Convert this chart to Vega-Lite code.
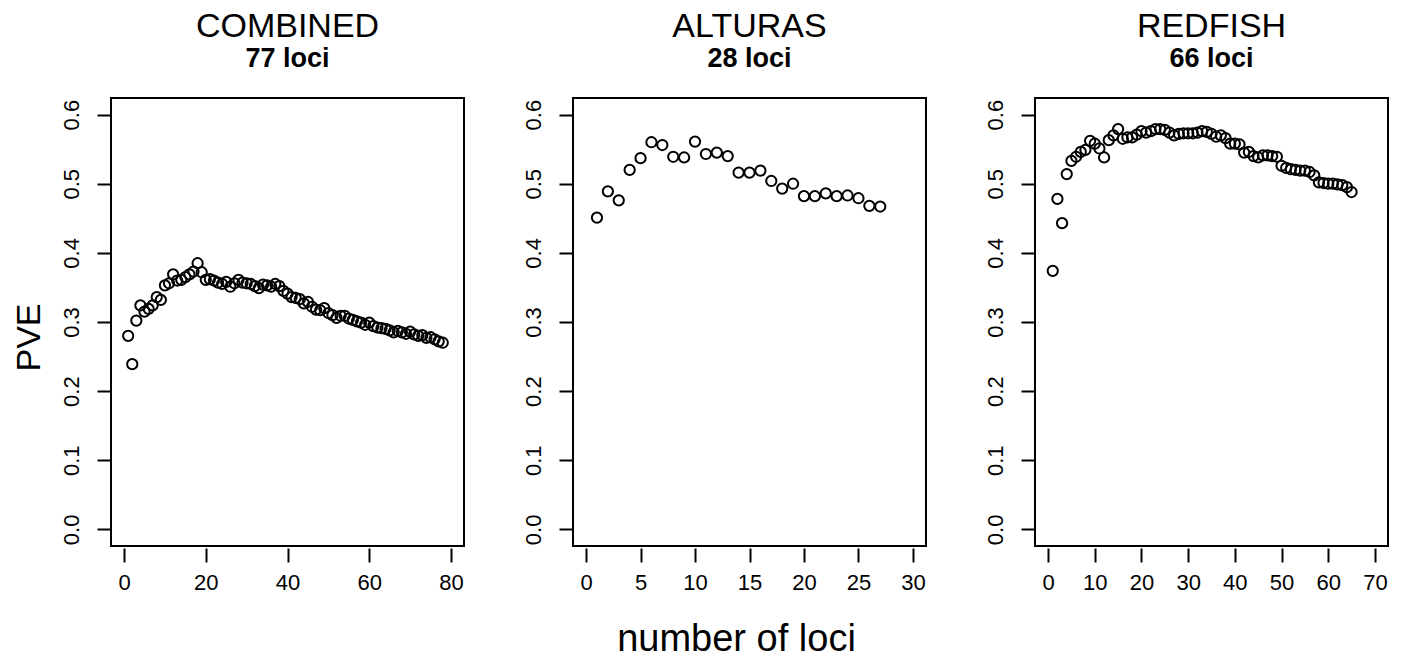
{
  "$schema": "https://vega.github.io/schema/vega-lite/v6.json",
  "autosize": {"type": "pad"},
  "padding": {"left": 11, "top": 9, "right": 0, "bottom": 0},
  "background": "white",
  "bounds": "flush",
  "spacing": 109,
  "datasets": {
    "combined": [
      {"loci":1,"pve":0.280},{"loci":2,"pve":0.239},{"loci":3,"pve":0.302},{"loci":4,"pve":0.324},{"loci":5,"pve":0.315},{"loci":6,"pve":0.319},{"loci":7,"pve":0.324},{"loci":8,"pve":0.336},{"loci":9,"pve":0.332},{"loci":10,"pve":0.353},
      {"loci":11,"pve":0.356},{"loci":12,"pve":0.369},{"loci":13,"pve":0.360},{"loci":14,"pve":0.361},{"loci":15,"pve":0.365},{"loci":16,"pve":0.369},{"loci":17,"pve":0.373},{"loci":18,"pve":0.385},{"loci":19,"pve":0.372},{"loci":20,"pve":0.361},
      {"loci":21,"pve":0.362},{"loci":22,"pve":0.360},{"loci":23,"pve":0.357},{"loci":24,"pve":0.355},{"loci":25,"pve":0.358},{"loci":26,"pve":0.351},{"loci":27,"pve":0.356},{"loci":28,"pve":0.361},{"loci":29,"pve":0.357},{"loci":30,"pve":0.356},
      {"loci":31,"pve":0.355},{"loci":32,"pve":0.352},{"loci":33,"pve":0.349},{"loci":34,"pve":0.354},{"loci":35,"pve":0.353},{"loci":36,"pve":0.351},{"loci":37,"pve":0.355},{"loci":38,"pve":0.352},{"loci":39,"pve":0.345},{"loci":40,"pve":0.341},
      {"loci":41,"pve":0.336},{"loci":42,"pve":0.335},{"loci":43,"pve":0.333},{"loci":44,"pve":0.327},{"loci":45,"pve":0.329},{"loci":46,"pve":0.322},{"loci":47,"pve":0.318},{"loci":48,"pve":0.317},{"loci":49,"pve":0.320},{"loci":50,"pve":0.313},
      {"loci":51,"pve":0.310},{"loci":52,"pve":0.306},{"loci":53,"pve":0.309},{"loci":54,"pve":0.309},{"loci":55,"pve":0.305},{"loci":56,"pve":0.303},{"loci":57,"pve":0.301},{"loci":58,"pve":0.299},{"loci":59,"pve":0.296},{"loci":60,"pve":0.299},
      {"loci":61,"pve":0.294},{"loci":62,"pve":0.292},{"loci":63,"pve":0.291},{"loci":64,"pve":0.290},{"loci":65,"pve":0.288},{"loci":66,"pve":0.285},{"loci":67,"pve":0.287},{"loci":68,"pve":0.285},{"loci":69,"pve":0.283},{"loci":70,"pve":0.286},
      {"loci":71,"pve":0.282},{"loci":72,"pve":0.280},{"loci":73,"pve":0.281},{"loci":74,"pve":0.277},{"loci":75,"pve":0.278},{"loci":76,"pve":0.275},{"loci":77,"pve":0.272},{"loci":78,"pve":0.270}
    ],
    "alturas": [
      {"loci":1,"pve":0.451},{"loci":2,"pve":0.489},{"loci":3,"pve":0.476},{"loci":4,"pve":0.520},{"loci":5,"pve":0.537},{"loci":6,"pve":0.560},{"loci":7,"pve":0.556},{"loci":8,"pve":0.539},{"loci":9,"pve":0.538},{"loci":10,"pve":0.561},
      {"loci":11,"pve":0.543},{"loci":12,"pve":0.545},{"loci":13,"pve":0.540},{"loci":14,"pve":0.516},{"loci":15,"pve":0.516},{"loci":16,"pve":0.519},{"loci":17,"pve":0.504},{"loci":18,"pve":0.493},{"loci":19,"pve":0.500},{"loci":20,"pve":0.482},
      {"loci":21,"pve":0.482},{"loci":22,"pve":0.486},{"loci":23,"pve":0.482},{"loci":24,"pve":0.483},{"loci":25,"pve":0.479},{"loci":26,"pve":0.468},{"loci":27,"pve":0.467}
    ],
    "redfish": [
      {"loci":1,"pve":0.374},{"loci":2,"pve":0.478},{"loci":3,"pve":0.443},{"loci":4,"pve":0.514},{"loci":5,"pve":0.533},{"loci":6,"pve":0.539},{"loci":7,"pve":0.546},{"loci":8,"pve":0.549},{"loci":9,"pve":0.562},{"loci":10,"pve":0.558},
      {"loci":11,"pve":0.551},{"loci":12,"pve":0.538},{"loci":13,"pve":0.563},{"loci":14,"pve":0.570},{"loci":15,"pve":0.579},{"loci":16,"pve":0.565},{"loci":17,"pve":0.567},{"loci":18,"pve":0.567},{"loci":19,"pve":0.571},{"loci":20,"pve":0.576},
      {"loci":21,"pve":0.574},{"loci":22,"pve":0.576},{"loci":23,"pve":0.579},{"loci":24,"pve":0.579},{"loci":25,"pve":0.578},{"loci":26,"pve":0.574},{"loci":27,"pve":0.570},{"loci":28,"pve":0.572},{"loci":29,"pve":0.573},{"loci":30,"pve":0.573},
      {"loci":31,"pve":0.573},{"loci":32,"pve":0.574},{"loci":33,"pve":0.576},{"loci":34,"pve":0.575},{"loci":35,"pve":0.572},{"loci":36,"pve":0.568},{"loci":37,"pve":0.570},{"loci":38,"pve":0.566},{"loci":39,"pve":0.558},{"loci":40,"pve":0.558},
      {"loci":41,"pve":0.557},{"loci":42,"pve":0.545},{"loci":43,"pve":0.546},{"loci":44,"pve":0.540},{"loci":45,"pve":0.538},{"loci":46,"pve":0.541},{"loci":47,"pve":0.541},{"loci":48,"pve":0.540},{"loci":49,"pve":0.539},{"loci":50,"pve":0.526},
      {"loci":51,"pve":0.523},{"loci":52,"pve":0.521},{"loci":53,"pve":0.520},{"loci":54,"pve":0.519},{"loci":55,"pve":0.519},{"loci":56,"pve":0.517},{"loci":57,"pve":0.512},{"loci":58,"pve":0.502},{"loci":59,"pve":0.501},{"loci":60,"pve":0.500},
      {"loci":61,"pve":0.500},{"loci":62,"pve":0.499},{"loci":63,"pve":0.498},{"loci":64,"pve":0.495},{"loci":65,"pve":0.488}
    ]
  },
  "config": {
    "view": {"stroke": "black", "strokeWidth": 2},
    "font": "Liberation Sans",
    "axis": {
      "labelFont": "Liberation Sans", "labelFontSize": 22, "labelColor": "black",
      "tickColor": "black", "tickWidth": 2, "tickSize": 14,
      "domain": false, "grid": false,
      "titleFont": "Liberation Sans", "titleFontWeight": "normal", "titleColor": "black", "titleFontSize": 38
    },
    "axisX": {"offset": 2, "labelPadding": 10},
    "axisY": {"labelAngle": -90, "labelAlign": "center", "labelBaseline": "bottom", "labelPadding": 14},
    "title": {
      "font": "Liberation Sans", "fontSize": 34, "fontWeight": "normal", "color": "black",
      "subtitleFont": "Liberation Sans", "subtitleFontSize": 27, "subtitleFontWeight": "bold", "subtitleColor": "black",
      "anchor": "middle", "offset": 26, "subtitlePadding": 2
    },
    "point": {"shape": "circle", "filled": false, "color": "black", "strokeWidth": 2, "size": 105, "opacity": 1}
  },
  "hconcat": [
    {
      "data": {"name": "combined"},
      "width": 353, "height": 448,
      "title": {"text": "COMBINED", "subtitle": "77 loci"},
      "mark": {"type": "point"},
      "encoding": {
        "x": {"field": "loci", "type": "quantitative", "scale": {"domain": [-3.2, 83.2], "nice": false, "zero": false}, "axis": {"values": [0, 20, 40, 60, 80], "title": null}},
        "y": {"field": "pve", "type": "quantitative", "scale": {"domain": [-0.024, 0.624], "nice": false, "zero": false}, "axis": {"values": [0, 0.1, 0.2, 0.3, 0.4, 0.5, 0.6], "format": ".1f", "title": "PVE", "titleFontSize": 34, "titleX": -82, "titleY": 239, "titleAngle": -90, "titleAlign": "center", "titleBaseline": "middle"}}
      }
    },
    {
      "data": {"name": "alturas"},
      "width": 353, "height": 448,
      "title": {"text": "ALTURAS", "subtitle": "28 loci"},
      "mark": {"type": "point"},
      "encoding": {
        "x": {"field": "loci", "type": "quantitative", "scale": {"domain": [-1.2, 31.2], "nice": false, "zero": false}, "axis": {"values": [0, 5, 10, 15, 20, 25, 30], "title": "number of loci", "titleX": 163, "titleY": 91, "titleAlign": "center", "titleBaseline": "middle"}},
        "y": {"field": "pve", "type": "quantitative", "scale": {"domain": [-0.024, 0.624], "nice": false, "zero": false}, "axis": {"values": [0, 0.1, 0.2, 0.3, 0.4, 0.5, 0.6], "format": ".1f", "title": null}}
      }
    },
    {
      "data": {"name": "redfish"},
      "width": 353, "height": 448,
      "title": {"text": "REDFISH", "subtitle": "66 loci"},
      "mark": {"type": "point"},
      "encoding": {
        "x": {"field": "loci", "type": "quantitative", "scale": {"domain": [-2.8, 72.8], "nice": false, "zero": false}, "axis": {"values": [0, 10, 20, 30, 40, 50, 60, 70], "title": null}},
        "y": {"field": "pve", "type": "quantitative", "scale": {"domain": [-0.024, 0.624], "nice": false, "zero": false}, "axis": {"values": [0, 0.1, 0.2, 0.3, 0.4, 0.5, 0.6], "format": ".1f", "title": null}}
      }
    }
  ]
}
